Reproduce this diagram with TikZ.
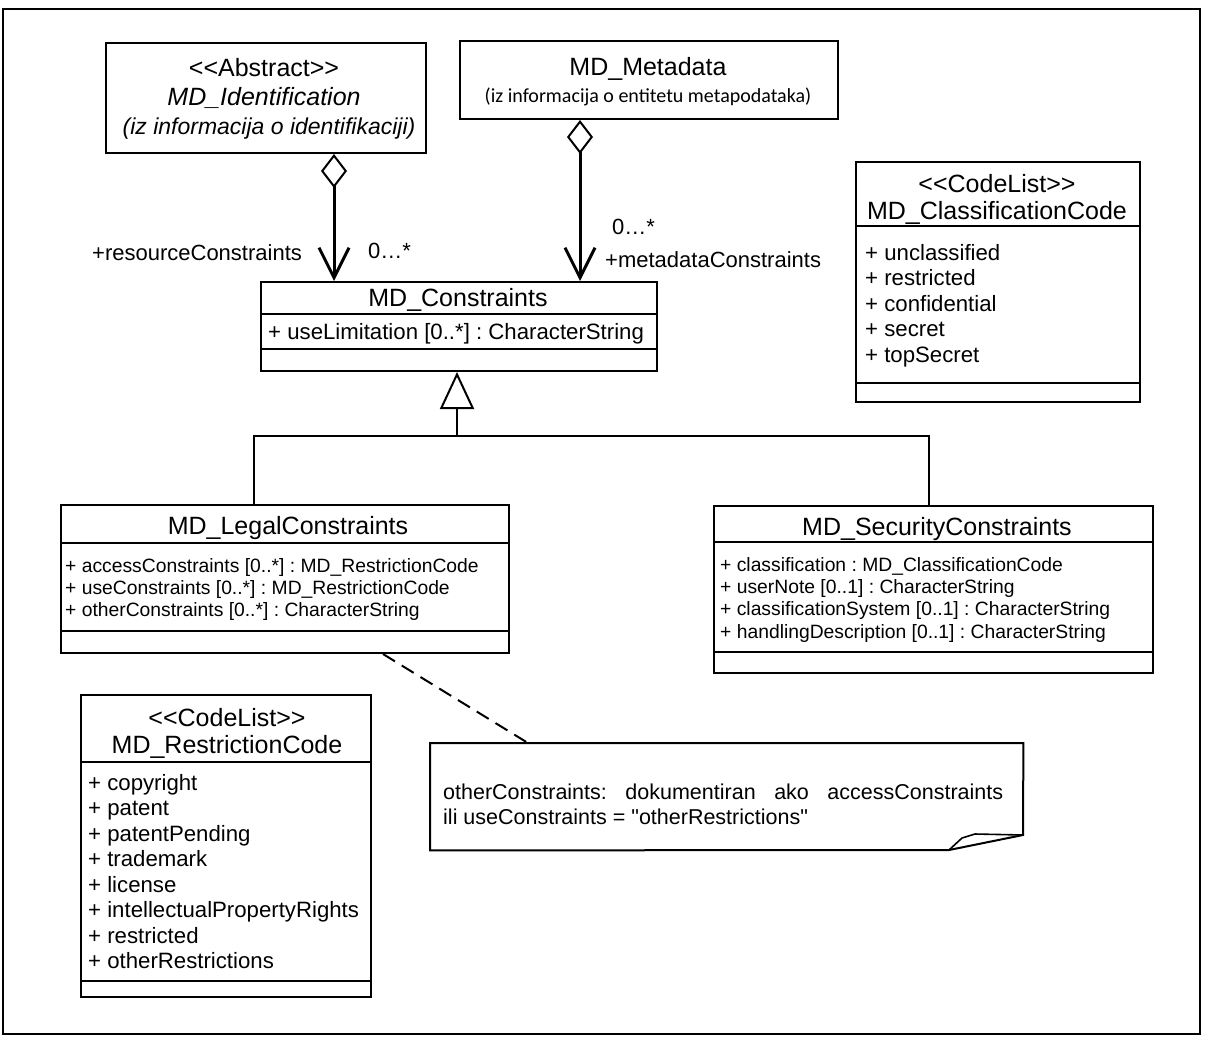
\documentclass[tikz,border=0pt]{standalone}
\usepackage{fontspec}
\setmainfont{Liberation Sans}
\newfontfamily\carl{Carlito}
\usetikzlibrary{arrows.meta}
\newcommand{\fs}[1]{\fontsize{#1}{#1}\selectfont}
\frenchspacing
\tikzset{
  box/.style={draw, line width=2pt, anchor=north west, inner sep=0pt},
  txt/.style={inner sep=0pt, anchor=base},
  ltxt/.style={inner sep=0pt, anchor=base west},
  div/.style={line width=1.8pt},
  agg/.style={line width=3pt, {Diamond[open, length=34pt, width=26pt, line width=2pt]}-{Straight Barb[length=30pt, width=30pt, line width=3pt]}},
  gen/.style={line width=2pt, -{Triangle[open, length=37pt, width=34pt, line width=2pt]}},
}
\begin{document}
\begin{tikzpicture}[x=1pt,y=-1pt]
\useasboundingbox (0,0) rectangle (1207,1045);
\draw[line width=2pt] (3,9) rectangle (1200,1034);

% MD_Identification
\node[box, minimum width=320pt, minimum height=110pt] (ident) at (105,42) {};
\node[txt] (identa) at (264,76) {\fs{25}<{}<Abstract>{}>};
\node[txt] (identb) at (264,105) {\fs{25}\itshape MD\_Identification};
\node[txt] (identc) at (269,134) {\fs{23}\itshape (iz informacija o identifikaciji)};

% MD_Metadata
\node[box, minimum width=378pt, minimum height=78pt] (meta) at (459,40) {};
\node[txt] (metaa) at (648,75) {\fs{25}MD\_Metadata};
\node[txt] (metab) at (648,102) {\carl\fs{20}(iz informacija o entitetu metapodataka)};

% MD_Constraints
\node[box, minimum width=396pt, minimum height=89pt] (cons) at (260,281) {};
\draw[div] (260,314) -- (656,314);
\draw[div] (260,349) -- (656,349);
\node[txt] (consa) at (458,306) {\fs{25}MD\_Constraints};
\node[ltxt] (consb) at (268,339) {\fs{22.2}+ useLimitation [0..*] : CharacterString};

% Aggregations
\coordinate (xa) at (334,0);
\coordinate (xb) at (580,0);
\draw[agg] (ident.south -| xa) -- (cons.north -| xa);
\draw[agg] (meta.south -| xb) -- (cons.north -| xb);
\node[ltxt] (rolea) at (92,260) {\fs{22}+resourceConstraints};
\node[ltxt] (multa) at (368,258) {\fs{22}0\dots*};
\node[ltxt] (multb) at (612,234) {\fs{22}0\dots*};
\node[ltxt] (roleb) at (605,267) {\fs{22}+metadataConstraints};

% MD_LegalConstraints
\node[box, minimum width=448pt, minimum height=148pt] (legal) at (60,504) {};
\draw[div] (60,543) -- (508,543);
\draw[div] (60,631) -- (510,631);
\node[txt] (legala) at (288,534) {\fs{25}MD\_LegalConstraints};
\node[ltxt] (legalb) at (65,572) {\fs{19.3}+ accessConstraints [0..*] : MD\_RestrictionCode};
\node[ltxt] (legalc) at (65,594) {\fs{19.3}+ useConstraints [0..*] : MD\_RestrictionCode};
\node[ltxt] (legald) at (65,616) {\fs{19.3}+ otherConstraints [0..*] : CharacterString};

% MD_SecurityConstraints
\node[box, minimum width=439pt, minimum height=167pt] (sec) at (713,505) {};
\draw[div] (713,542) -- (1152,542);
\draw[div] (713,652) -- (1152,652);
\node[txt] (seca) at (937,535) {\fs{25}MD\_SecurityConstraints};
\node[ltxt] (secb) at (720,571) {\fs{19.3}+ classification : MD\_ClassificationCode};
\node[ltxt] (secc) at (720,593) {\fs{19.3}+ userNote [0..1] : CharacterString};
\node[ltxt] (secd) at (720,615) {\fs{19.3}+ classificationSystem [0..1] : CharacterString};
\node[ltxt] (sece) at (720,638) {\fs{19.3}+ handlingDescription [0..1] : CharacterString};

% Generalization
\coordinate (j) at (457,436);
\coordinate (xl) at (254,0);
\coordinate (xs) at (929,0);
\draw[line width=2pt] (legal.north -| xl) -- (xl |- j) -- (xs |- j) -- (sec.north -| xs);
\draw[gen] (j) -- (cons.south -| j);

% Note
\node[inner sep=0pt, minimum width=593pt, minimum height=107pt, anchor=north west] (note) at (430,743) {};
\draw[line width=2pt] (949,850) -- (note.south west) -- (note.north west) -- (note.north east) -- (1023,835) -- cycle;
\draw[line width=1.6pt] (949,850) -- (962,838) -- (975,834) -- (1023,835);
\node[ltxt] (notea) at (443,799) {\fs{21.5}\makebox[560pt][s]{otherConstraints: dokumentiran ako accessConstraints}};
\node[ltxt] (noteb) at (443,824) {\fs{21.5}ili useConstraints = \textquotedbl otherRestrictions\textquotedbl};
\coordinate (xd1) at (383,0);
\coordinate (xd2) at (528,0);
\draw[line width=2pt, dash pattern=on 14pt off 8pt] (legal.south -| xd1) -- (note.north -| xd2);

% MD_RestrictionCode
\node[box, minimum width=290pt, minimum height=302pt] (rest) at (80,694) {};
\draw[div] (80,762) -- (370,762);
\draw[div] (80,981) -- (370,981);
\node[txt] (resta) at (227,726) {\fs{25}<{}<CodeList>{}>};
\node[txt] (restb) at (227,753) {\fs{25}MD\_RestrictionCode};
\foreach \t [count=\i] in {copyright, patent, patentPending, trademark, license, intellectualPropertyRights, restricted, otherRestrictions}
  \node[ltxt] (r\i) at (88,{790+25.5*(\i-1)}) {\fs{22.2}+ \t};

% MD_ClassificationCode
\node[box, minimum width=284pt, minimum height=240pt] (cls) at (855,161) {};
\draw[div] (855,226) -- (1139,226);
\draw[div] (855,383) -- (1139,383);
\node[txt] (clsa) at (997,192) {\fs{25}<{}<CodeList>{}>};
\node[txt] (clsb) at (997,219) {\fs{25}MD\_ClassificationCode};
\foreach \t [count=\i] in {unclassified, restricted, confidential, secret, topSecret}
  \node[ltxt] (c\i) at (865,{260+25.5*(\i-1)}) {\fs{22.2}+ \t};
\end{tikzpicture}
\end{document}
